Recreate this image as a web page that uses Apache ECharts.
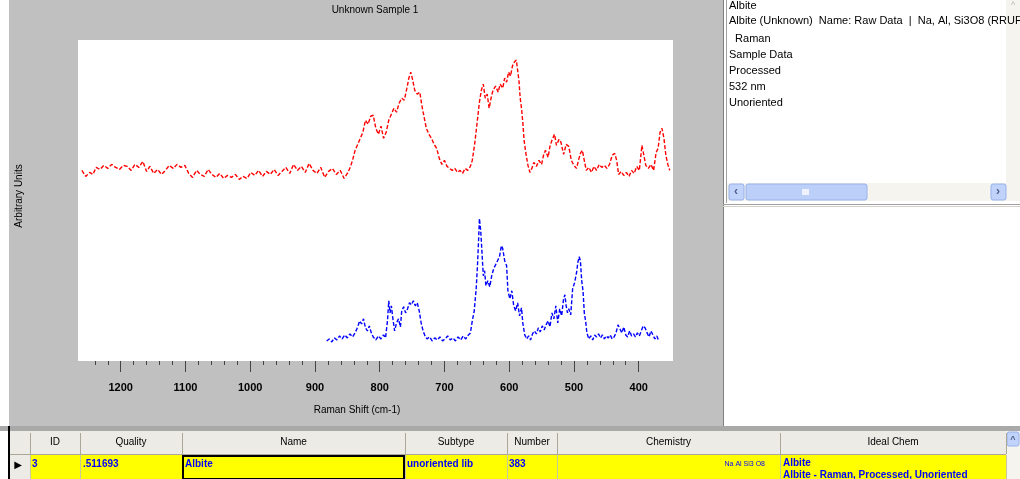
<!DOCTYPE html>
<html>
<head>
<meta charset="utf-8">
<script src="https://cdn.jsdelivr.net/npm/echarts@6/dist/echarts.min.js"></script>
<style>
  html, body { margin: 0; padding: 0; background: #ffffff; }
  #chart { width: 1020px; height: 479px; }
</style>
</head>
<body>
<div id="chart"></div>
<script>
// ---------- DATA ----------
const chartTitle = 'Unknown Sample 1';
const xAxisTitle = 'Raman Shift (cm-1)';
const yAxisTitle = 'Arbitrary Units';

const majorTickValues = [1200, 1100, 1000, 900, 800, 700, 600, 500, 400];
const minorTickValues = [1240, 1220, 1180, 1160, 1140, 1120, 1080, 1060, 1040, 1020,
  980, 960, 940, 920, 880, 860, 840, 820, 780, 760, 740, 720, 680, 660, 640, 620,
  580, 560, 540, 520, 480, 460, 440, 420];

// unknown sample (red), [Raman shift, arbitrary intensity]
const sampleSpectrum = [
  [1260,190],[1254,184],[1248,188],[1243,186],[1238,193],[1232,191],[1226,195],[1220,192],
  [1214,196],[1208,193],[1202,191],[1196,195],[1190,194],[1184,190],[1178,196],[1172,193],
  [1166,199],[1160,189],[1155,194],[1149,187],[1143,191],[1137,186],[1131,190],[1125,195],
  [1119,192],[1113,196],[1107,193],[1101,195],[1095,187],[1089,183],[1083,190],[1077,186],
  [1071,184],[1065,191],[1059,186],[1053,183],[1047,187],[1041,182],[1035,185],[1029,183],
  [1023,186],[1017,181],[1011,184],[1005,182],[999,188],[993,185],[987,190],[981,184],
  [975,189],[969,186],[963,191],[957,185],[951,189],[945,193],[939,187],[933,196],
  [927,190],[921,194],[915,188],[909,197],[903,190],[897,187],[891,193],[885,183],
  [879,189],[873,192],[867,186],[861,190],[855,182],[849,188],[845,194],[842,200],
  [838,210],[834,216],[830,222],[826,228],[822,240],[818,236],[814,244],[810,245],
  [806,232],[802,226],[798,234],[794,222],[790,228],[786,240],[782,246],[778,252],
  [774,248],[770,257],[766,262],[762,260],[758,272],[755,282],[752,288],[749,280],
  [746,270],[742,266],[738,268],[735,255],[732,245],[728,232],[724,226],[720,222],
  [716,216],[712,212],[708,202],[704,196],[700,200],[696,194],[692,192],[688,190],
  [684,192],[680,188],[676,190],[672,187],[668,192],[664,190],[660,194],[657,200],
  [653,218],[650,235],[646,258],[643,270],[640,276],[637,262],[634,266],[631,252],
  [628,262],[625,270],[621,274],[617,268],[614,276],[610,272],[607,282],[604,278],
  [601,288],[598,284],[595,294],[592,298],[589,300],[587,299],[585,280],[583,262],
  [581,252],[579,238],[577,220],[574,206],[571,195],[568,188],[565,192],[562,198],
  [558,194],[554,200],[550,196],[547,205],[544,210],[540,203],[537,214],[534,220],
  [530,226],[527,215],[523,221],[520,218],[516,206],[512,216],[508,214],[504,200],
  [500,195],[496,192],[493,200],[490,207],[487,210],[484,200],[481,190],[477,193],
  [473,188],[469,194],[465,190],[461,196],[457,193],[453,195],[449,192],[445,196],
  [441,205],[437,207],[434,200],[431,186],[427,189],[423,185],[419,188],[415,184],
  [411,190],[407,187],[403,194],[399,190],[395,215],[392,205],[389,195],[385,192],
  [381,196],[377,190],[373,208],[370,212],[367,228],[364,232],[361,222],[358,205],
  [355,196],[352,190]
];

// reference spectrum (blue), [Raman shift, arbitrary intensity]
const referenceSpectrum = [
  [882,20],[878,22],[874,19],[870,23],[866,21],[862,25],[858,22],[854,26],[850,23],
  [846,27],[842,24],[838,28],[834,34],[831,40],[828,37],[825,42],[822,33],[819,30],
  [816,35],[813,28],[810,24],[806,21],[802,25],[798,22],[794,26],[791,23],[788,40],
  [786,60],[784,48],[782,55],[780,44],[777,30],[774,38],[771,42],[768,34],[766,50],
  [763,54],[760,48],[757,52],[754,58],[751,56],[748,60],[745,55],[742,58],[739,50],
  [736,38],[733,30],[730,25],[727,22],[723,24],[719,20],[715,23],[711,21],[707,24],
  [703,20],[699,22],[695,25],[691,21],[687,23],[683,20],[679,24],[675,21],[671,25],
  [667,22],[663,26],[660,28],[657,40],[654,50],[651,72],[649,95],[647,125],[646,142],
  [644,130],[642,108],[640,85],[638,90],[636,75],[633,80],[630,74],[627,85],[624,92],
  [621,96],[618,100],[615,104],[612,115],[610,112],[607,100],[604,95],[602,70],[599,62],
  [596,70],[593,55],[590,50],[587,58],[584,45],[581,53],[579,38],[576,26],[573,22],
  [570,25],[567,21],[564,27],[561,30],[558,27],[555,33],[552,29],[549,35],[546,31],
  [543,36],[540,40],[537,34],[534,48],[531,42],[528,55],[525,38],[522,52],[519,45],
  [516,62],[514,66],[512,55],[510,48],[508,52],[505,46],[502,72],[499,78],[496,88],
  [494,98],[492,104],[490,100],[488,80],[486,70],[484,48],[482,40],[480,28],[477,22],
  [474,25],[471,21],[468,26],[465,24],[462,27],[459,23],[456,26],[453,22],[450,25],
  [447,23],[444,26],[441,22],[438,24],[435,28],[432,36],[429,32],[426,28],[423,34],
  [420,26],[417,24],[414,30],[411,25],[408,27],[405,24],[402,28],[399,25],[396,30],
  [393,35],[390,33],[387,28],[384,24],[381,30],[378,26],[375,22],[372,25],[369,20]
];

// side list box text
const listLines = ['Albite',
  'Albite (Unknown)  Name: Raw Data  |  Na, Al, Si3O8 (RRUFF) Raman Da',
  '  Raman', 'Sample Data', 'Processed', '532 nm', 'Unoriented'];

// match table
const tableHeaders = ['ID', 'Quality', 'Name', 'Subtype', 'Number', 'Chemistry', 'Ideal Chem'];
const tableRow = ['3', '.511693', 'Albite', 'unoriented lib', '383', 'Na Al Si3 O8', 'Albite'];
const tableRow2 = 'Albite - Raman, Processed, Unoriented';

// ---------- LAYOUT ----------
const G = { left: 78, top: 40, right: 673, bottom: 361 };
const colEdges = [30, 80, 182, 405, 507, 557, 780, 1006];
const FONT = 'Liberation Sans';
const HEAD_TOP = 431, ROW_TOP = 455;

const graphics = [];
graphics.push({ type: 'rect', z: -10, shape: { x: 9, y: 0, width: 714, height: 428 }, style: { fill: '#c0c0c0' } });
graphics.push({ type: 'rect', z: -9, shape: { x: G.left, y: G.top, width: G.right - G.left, height: G.bottom - G.top }, style: { fill: '#ffffff' } });
graphics.push({ type: 'line', z: 5, shape: { x1: 723.5, y1: 0, x2: 723.5, y2: 428 }, style: { stroke: '#808080', lineWidth: 1 } });
graphics.push({ type: 'line', z: 5, shape: { x1: 726.5, y1: 0, x2: 726.5, y2: 203 }, style: { stroke: '#a0a0a0', lineWidth: 1 } });
graphics.push({ type: 'line', z: 5, shape: { x1: 723, y1: 204.5, x2: 1020, y2: 204.5 }, style: { stroke: '#a0a0a0', lineWidth: 1 } });
graphics.push({ type: 'line', z: 5, shape: { x1: 723, y1: 206.5, x2: 1020, y2: 206.5 }, style: { stroke: '#d4d0c8', lineWidth: 1 } });
const listY = [6, 21, 39, 55, 71, 87, 103];
listLines.forEach((t, i) => {
  graphics.push({ type: 'text', z: 6, x: 729, y: listY[i], style: { text: t, font: '11px ' + FONT, fill: '#000', textVerticalAlign: 'middle' } });
});
graphics.push({ type: 'rect', z: 5, shape: { x: 1006, y: 0, width: 14, height: 183 }, style: { fill: '#f5f4ef' } });
graphics.push({ type: 'text', z: 6, x: 1013, y: 6, style: { text: '^', font: '9px ' + FONT, fill: '#b8b8b8', textAlign: 'center', textVerticalAlign: 'middle' } });
graphics.push({ type: 'rect', z: 5, shape: { x: 727, y: 183, width: 293, height: 18 }, style: { fill: '#f5f4ef' } });
graphics.push({ type: 'rect', z: 6, shape: { x: 729, y: 184, width: 15, height: 16, r: 2 }, style: { fill: '#c1d2fb', stroke: '#98b1ea' } });
graphics.push({ type: 'rect', z: 6, shape: { x: 746, y: 184, width: 121, height: 16, r: 2 }, style: { fill: '#bccff8', stroke: '#98b1ea' } });
graphics.push({ type: 'rect', z: 7, shape: { x: 802, y: 189, width: 7, height: 6 }, style: { fill: '#eef3ff' } });
graphics.push({ type: 'rect', z: 6, shape: { x: 991, y: 184, width: 15, height: 16, r: 2 }, style: { fill: '#c1d2fb', stroke: '#98b1ea' } });
graphics.push({ type: 'text', z: 7, x: 736, y: 192, style: { text: '‹', font: 'bold 12px ' + FONT, fill: '#4d6185', textAlign: 'center', textVerticalAlign: 'middle' } });
graphics.push({ type: 'text', z: 7, x: 998, y: 192, style: { text: '›', font: 'bold 12px ' + FONT, fill: '#4d6185', textAlign: 'center', textVerticalAlign: 'middle' } });

// table
graphics.push({ type: 'rect', z: 5, shape: { x: 0, y: 426, width: 1020, height: 5 }, style: { fill: '#a9a9a9' } });
graphics.push({ type: 'rect', z: 5, shape: { x: 9, y: HEAD_TOP, width: 997, height: ROW_TOP - HEAD_TOP }, style: { fill: '#ecebe6' } });
graphics.push({ type: 'rect', z: 5, shape: { x: 30, y: ROW_TOP, width: 976, height: 479 - ROW_TOP }, style: { fill: '#ffff00' } });
graphics.push({ type: 'rect', z: 5, shape: { x: 9, y: ROW_TOP, width: 21, height: 479 - ROW_TOP }, style: { fill: '#ecebe6' } });
graphics.push({ type: 'rect', z: 5, shape: { x: 1006, y: HEAD_TOP, width: 14, height: 479 - HEAD_TOP }, style: { fill: '#f5f4ef' } });
graphics.push({ type: 'rect', z: 6, shape: { x: 1007, y: HEAD_TOP + 1, width: 12, height: 14, r: 2 }, style: { fill: '#c1d2fb', stroke: '#98b1ea' } });
graphics.push({ type: 'text', z: 7, x: 1013, y: HEAD_TOP + 9, style: { text: '^', font: 'bold 9px ' + FONT, fill: '#4d6185', textAlign: 'center', textVerticalAlign: 'middle' } });
graphics.push({ type: 'line', z: 7, shape: { x1: 9, y1: 426, x2: 9, y2: 479 }, style: { stroke: '#000', lineWidth: 2 } });
colEdges.forEach((cx) => {
  graphics.push({ type: 'line', z: 6, shape: { x1: cx + 0.5, y1: HEAD_TOP + 2, x2: cx + 0.5, y2: ROW_TOP - 1 }, style: { stroke: '#aca899', lineWidth: 1 } });
  graphics.push({ type: 'line', z: 6, shape: { x1: cx + 0.5, y1: ROW_TOP, x2: cx + 0.5, y2: 479 }, style: { stroke: '#c8c8a0', lineWidth: 1 } });
});
graphics.push({ type: 'line', z: 6, shape: { x1: 9, y1: ROW_TOP - 0.5, x2: 1006, y2: ROW_TOP - 0.5 }, style: { stroke: '#aca899', lineWidth: 1 } });
tableHeaders.forEach((h, i) => {
  graphics.push({ type: 'text', z: 7, x: (colEdges[i] + colEdges[i + 1]) / 2, y: 442,
    style: { text: h, font: '10px ' + FONT, fill: '#000', textAlign: 'center', textVerticalAlign: 'middle' } });
});
graphics.push({ type: 'text', z: 7, x: 18, y: 465, style: { text: '▶', font: '10px DejaVu Sans', fill: '#000', textAlign: 'center', textVerticalAlign: 'middle' } });
const rowX = [32, 83, 185, 407, 509, 765, 783];
tableRow.forEach((v, i) => {
  graphics.push({ type: 'text', z: 7, x: rowX[i], y: i === 6 ? 463 : 464,
    style: { text: v, font: (i === 5 ? '7px ' : 'bold 10px ') + FONT, fill: '#0000ff',
      textAlign: i === 5 ? 'right' : 'left', textVerticalAlign: 'middle' } });
});
graphics.push({ type: 'text', z: 7, x: 783, y: 475, style: { text: tableRow2, font: 'bold 10px ' + FONT, fill: '#0000ff', textVerticalAlign: 'middle' } });
graphics.push({ type: 'rect', z: 8, shape: { x: 183, y: ROW_TOP + 1, width: 221, height: 479 - ROW_TOP - 1 }, style: { fill: 'none', stroke: '#000', lineWidth: 2 } });

graphics.push({ type: 'text', z: 6, x: 375, y: 10, style: { text: chartTitle, font: '10px ' + FONT, fill: '#000', textAlign: 'center', textVerticalAlign: 'middle' } });
graphics.push({ type: 'text', z: 6, x: 357, y: 410, style: { text: xAxisTitle, font: '10px ' + FONT, fill: '#000', textAlign: 'center', textVerticalAlign: 'middle' } });
graphics.push({ type: 'text', z: 6, x: 19, y: 196, rotation: Math.PI / 2, style: { text: yAxisTitle, font: '10px ' + FONT, fill: '#000', textAlign: 'center', textVerticalAlign: 'middle' } });

const X_MIN = 347, X_MAX = 1266;

const chart = echarts.init(document.getElementById('chart'), null, { renderer: 'canvas' });
chart.setOption({
  animation: false,
  backgroundColor: '#ffffff',
  graphic: { elements: graphics },
  grid: { left: G.left, top: G.top, width: G.right - G.left, height: G.bottom - G.top, containLabel: false },
  xAxis: [
    {
      type: 'value', min: X_MIN, max: X_MAX, inverse: true, position: 'bottom',
      axisLine: { show: false }, splitLine: { show: false },
      axisTick: { show: true, customValues: majorTickValues, length: 11, lineStyle: { color: '#444', width: 1 } },
      axisLabel: { show: true, customValues: majorTickValues, margin: 21, color: '#000',
        fontFamily: FONT, fontSize: 11, fontWeight: 'bold', formatter: (v) => String(v) }
    },
    {
      type: 'value', min: X_MIN, max: X_MAX, inverse: true, position: 'bottom', offset: 0,
      axisLine: { show: false }, splitLine: { show: false },
      axisTick: { show: true, customValues: minorTickValues, length: 4, lineStyle: { color: '#444', width: 1 } },
      axisLabel: { show: false }
    }
  ],
  yAxis: {
    type: 'value', min: 0, max: 320,
    axisLine: { show: false }, axisTick: { show: false }, axisLabel: { show: false }, splitLine: { show: false }
  },
  series: [
    { type: 'line', name: 'Sample', data: sampleSpectrum, xAxisIndex: 0, showSymbol: false, symbol: 'none',
      lineStyle: { color: '#ff0000', width: 1.4, type: [4, 2] }, z: 3 },
    { type: 'line', name: 'Reference', data: referenceSpectrum, xAxisIndex: 0, showSymbol: false, symbol: 'none',
      lineStyle: { color: '#0000ff', width: 1.4, type: [4, 2] }, z: 3 }
  ]
});
</script>
</body>
</html>
